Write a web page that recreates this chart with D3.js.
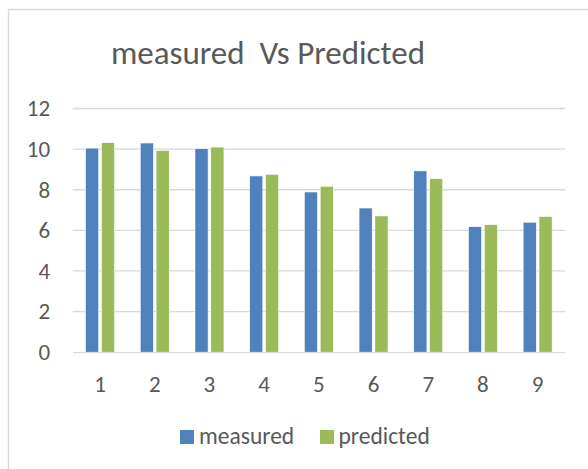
<!DOCTYPE html>
<html>
<head>
<meta charset="utf-8">
<script src="https://cdn.jsdelivr.net/npm/d3@7"></script>
<style>
  html, body { margin: 0; padding: 0; background: #fff; }
  svg { display: block; font-family: Carlito, Calibri, Lato, sans-serif; }
</style>
</head>
<body>
<svg id="chart" width="588" height="469"></svg>
<script>
const categories = ["1", "2", "3", "4", "5", "6", "7", "8", "9"];
const measured  = [10.05, 10.3, 10.02, 8.68, 7.89, 7.1, 8.93, 6.18, 6.4];
const predicted = [10.32, 9.93, 10.1, 8.76, 8.17, 6.71, 8.55, 6.28, 6.68];
const seriesNames = ["measured", "predicted"];
const seriesColors = ["#4F81BD", "#9BBB59"];
const yTicks = [0, 2, 4, 6, 8, 10, 12];
const titleText = "measured  Vs Predicted";

const svg = d3.select("#chart");
const plot = { left: 72.7, right: 565, top: 108.5, bottom: 352.2 };

// chart border (extends beyond visible right/bottom)
svg.append("rect")
  .attr("x", 8.5).attr("y", 9.5)
  .attr("width", 640).attr("height", 520)
  .attr("fill", "#fff").attr("stroke", "#d9d9d9").attr("stroke-width", 1.5);

const x0 = d3.scaleBand().domain(categories).range([plot.left, plot.right]).padding(0);
const x1 = d3.scaleBand().domain(seriesNames).range([0, 29]).paddingInner(0.17);
const y = d3.scaleLinear().domain([0, 12]).range([plot.bottom, plot.top]);

// gridlines
svg.append("g").selectAll("line")
  .data(yTicks.filter(d => d !== 0))
  .join("line")
  .attr("x1", plot.left).attr("x2", plot.right)
  .attr("y1", d => y(d)).attr("y2", d => y(d))
  .attr("stroke", "#d9d9d9").attr("stroke-width", 1.3);

// y axis labels
const yAxis = d3.axisLeft(y).tickValues(yTicks).tickSize(0).tickPadding(22.5);
const gy = svg.append("g").attr("transform", `translate(${plot.left},0)`).call(yAxis);
gy.select(".domain").remove();
gy.selectAll("text").attr("fill", "#595959").style("font-size", "23px")
  .style("font-family", "Carlito, Calibri, Lato, sans-serif");

// bars
const data = categories.map((c, i) => ({ cat: c, values: [measured[i], predicted[i]] }));
const groups = svg.append("g").selectAll("g")
  .data(data).join("g")
  .attr("transform", d => `translate(${x0(d.cat) + x0.bandwidth() / 2 - 14.5},0)`);
groups.selectAll("rect")
  .data(d => d.values.map((v, j) => ({ name: seriesNames[j], v, j })))
  .join("rect")
  .attr("x", d => x1(d.name))
  .attr("width", x1.bandwidth())
  .attr("y", d => y(d.v))
  .attr("height", d => y(0) - y(d.v))
  .attr("fill", d => seriesColors[d.j])
  .attr("stroke", "#ffffff").attr("stroke-width", 0.6);

// x axis
const xAxis = d3.axisBottom(x0).tickSize(0).tickPadding(23);
const gx = svg.append("g").attr("transform", `translate(0,${plot.bottom})`).call(xAxis);
gx.select(".domain").attr("stroke", "#d9d9d9").attr("stroke-width", 1.3);
gx.selectAll("text").attr("fill", "#595959").style("font-size", "23px")
  .style("font-family", "Carlito, Calibri, Lato, sans-serif");

// title
svg.append("text")
  .attr("x", 268).attr("y", 64)
  .attr("text-anchor", "middle")
  .attr("fill", "#595959")
  .style("font-size", "33px")
  .style("white-space", "pre")
  .attr("xml:space", "preserve")
  .text(titleText);

// legend
const legendItems = [
  { name: seriesNames[0], color: seriesColors[0], sx: 180, tx: 199 },
  { name: seriesNames[1], color: seriesColors[1], sx: 320, tx: 338.5 }
];
const lg = svg.append("g");
legendItems.forEach(it => {
  lg.append("rect").attr("x", it.sx).attr("y", 430).attr("width", 14).attr("height", 14).attr("fill", it.color);
  lg.append("text").attr("x", it.tx).attr("y", 443.5).attr("fill", "#595959")
    .style("font-size", "23.5px").text(it.name);
});
</script>
</body>
</html>
